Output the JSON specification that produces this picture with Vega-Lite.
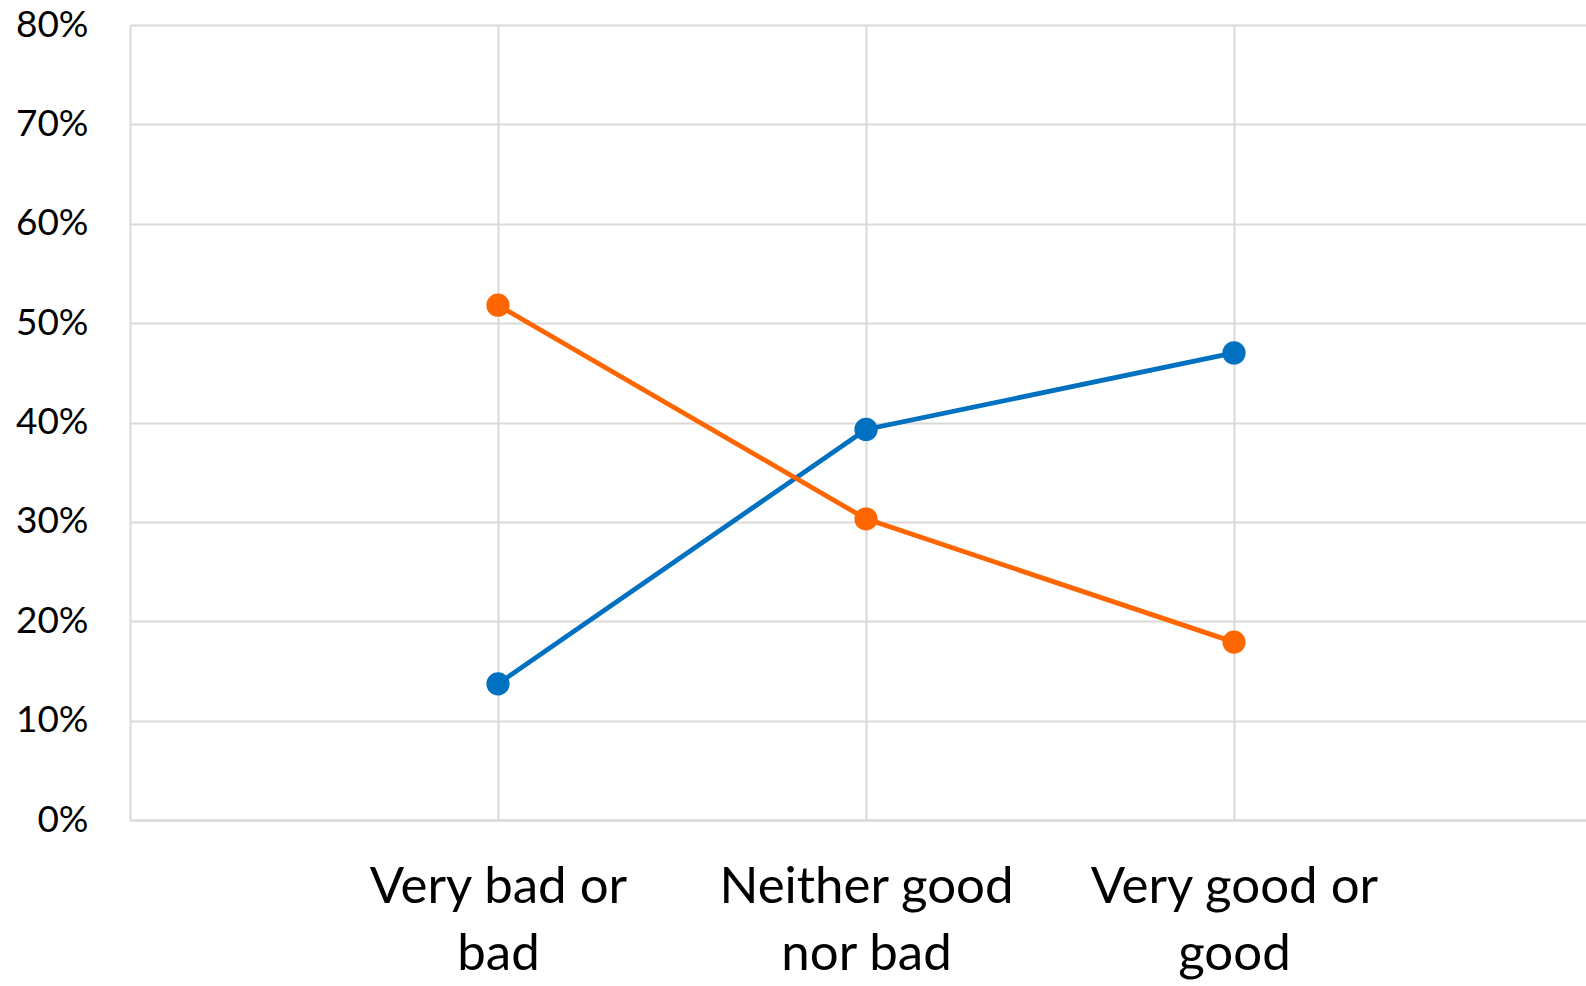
{
  "$schema": "https://vega.github.io/schema/vega-lite/v6.json",
  "autosize": {"type": "none"},
  "padding": {"left": 130, "top": 25, "right": 0, "bottom": 166},
  "width": 1456,
  "height": 795,
  "background": "white",
  "config": {"view": {"stroke": null}, "font": "Lato"},
  "data": {"values": [
    {"category": "Very bad or bad", "series": "A", "value": 0.137},
    {"category": "Neither good nor bad", "series": "A", "value": 0.393},
    {"category": "Very good or good", "series": "A", "value": 0.470},
    {"category": "Very bad or bad", "series": "B", "value": 0.518},
    {"category": "Neither good nor bad", "series": "B", "value": 0.303},
    {"category": "Very good or good", "series": "B", "value": 0.179}
  ]},
  "encoding": {
    "x": {"field": "category", "type": "nominal", "sort": ["Very bad or bad", "Neither good nor bad", "Very good or good"],
      "scale": {"type": "point", "padding": 1, "range": [0, 1472]},
      "axis": {"title": null, "grid": true, "gridColor": "#d9d9d9", "gridWidth": 2, "ticks": false,
        "domainColor": "#d9d9d9", "domainWidth": 2, "labelAngle": 0, "labelLimit": 500,
        "labelFontSize": 51, "labelColor": "#000000", "labelPadding": 42, "labelBaseline": "top", "labelLineHeight": 67,
        "labelExpr": "datum.label == 'Very bad or bad' ? ['Very bad or', 'bad'] : datum.label == 'Neither good nor bad' ? ['Neither good', 'nor bad'] : ['Very good or', 'good']"}},
    "y": {"field": "value", "type": "quantitative",
      "scale": {"domain": [0, 0.8]},
      "axis": {"title": null, "values": [0, 0.1, 0.2, 0.3, 0.4, 0.5, 0.6, 0.7, 0.8], "format": ".0%",
        "grid": true, "gridColor": "#d9d9d9", "gridWidth": 2, "ticks": false,
        "domainColor": "#d9d9d9", "domainWidth": 2,
        "labelFontSize": 37, "labelColor": "#000000", "labelPadding": 42}},
    "color": {"field": "series", "type": "nominal", "scale": {"domain": ["A", "B"], "range": ["#0070C0", "#FF6600"]}, "legend": null}
  },
  "layer": [
    {"mark": {"type": "line", "strokeWidth": 4.8}},
    {"mark": {"type": "point", "filled": true, "opacity": 1, "size": 540, "shape": "circle"}}
  ]
}
